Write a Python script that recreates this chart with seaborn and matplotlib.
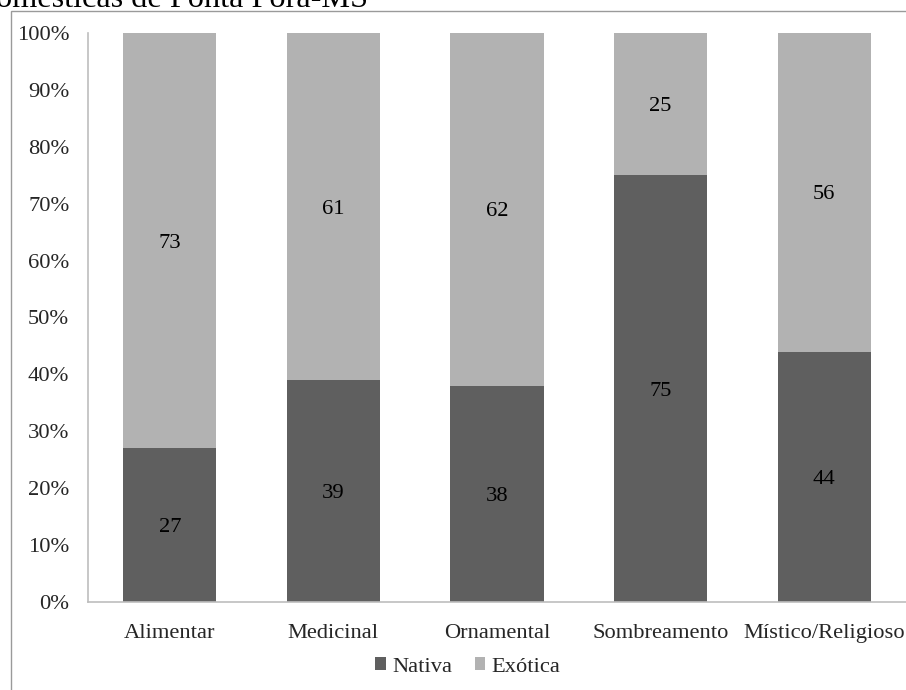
import matplotlib
matplotlib.use("Agg")
import matplotlib.pyplot as plt
import seaborn as sns
import pandas as pd
from matplotlib.patches import Patch, Rectangle

# Uso das espécies: percentual de nativas e exóticas por categoria
categorias = ["Alimentar", "Medicinal", "Ornamental", "Sombreamento", "Místico/Religioso"]
nativa = [27, 39, 38, 75, 44]
exotica = [73, 61, 62, 25, 56]
y_ticks = [0, 10, 20, 30, 40, 50, 60, 70, 80, 90, 100]

cor_nativa = "#5f5f5f"
cor_exotica = "#b2b2b2"
fs = 16.2

sns.set_theme(style="white")
plt.rcParams["font.family"] = ["Liberation Serif", "DejaVu Serif"]

df = pd.DataFrame({
    "categoria": categorias,
    "nativa": nativa,
    "exotica": exotica,
})
df["total"] = df["nativa"] + df["exotica"]

fig = plt.figure(figsize=(9.06, 6.9), dpi=100)
ax = fig.add_axes([88 / 906, 88 / 690, 818 / 906, (602 - 33) / 690])

# Barras empilhadas: total (exótica por cima) e nativa na base
sns.barplot(data=df, x="categoria", y="total", color=cor_exotica,
            width=0.57, saturation=1, ax=ax, edgecolor="none")
sns.barplot(data=df, x="categoria", y="nativa", color=cor_nativa,
            width=0.57, saturation=1, ax=ax, edgecolor="none")

for i, (n, e) in enumerate(zip(nativa, exotica)):
    ax.text(i, n / 2, f"{n}", ha="center", va="center_baseline", fontsize=fs, color="black")
    ax.text(i, n + e / 2, f"{e}", ha="center", va="center_baseline", fontsize=fs, color="black")

ax.set_ylim(0, 100)
ax.set_xlim(-0.5, len(categorias) - 0.5)
ax.set_yticks(y_ticks)
ax.set_yticklabels([f"{t}%" for t in y_ticks], fontsize=fs)
ax.tick_params(axis="y", length=0, pad=13.5)
ax.tick_params(axis="x", length=0, pad=16, labelsize=fs)
ax.set_xlabel("")
ax.set_ylabel("")
for lado in ["top", "right"]:
    ax.spines[lado].set_visible(False)
for lado in ["left", "bottom"]:
    ax.spines[lado].set_color("#bdbdbd")
    ax.spines[lado].set_linewidth(1.2)

handles = [Patch(facecolor=cor_nativa, edgecolor="none", label="Nativa"),
           Patch(facecolor=cor_exotica, edgecolor="none", label="Exótica")]
fig.legend(handles=handles, loc="center", bbox_to_anchor=(468 / 906, 1 - 667 / 690),
           ncol=2, frameon=False, fontsize=fs, handlelength=0.45, handleheight=0.45,
           handletextpad=0.3, columnspacing=1.0, borderpad=0)

# Moldura do gráfico
fig.add_artist(Rectangle((11 / 906, -0.1), 1.2, 1 - 11 / 690 + 0.1, transform=fig.transFigure,
                         fill=False, edgecolor="#9a9a9a", linewidth=1.0))

fig.text(368 / 906, 1 - 7 / 690, "omésticas de Ponta Porã-MS", ha="right", va="baseline",
         fontsize=23.2, color="black")

fig.savefig("out.png", dpi=100)
